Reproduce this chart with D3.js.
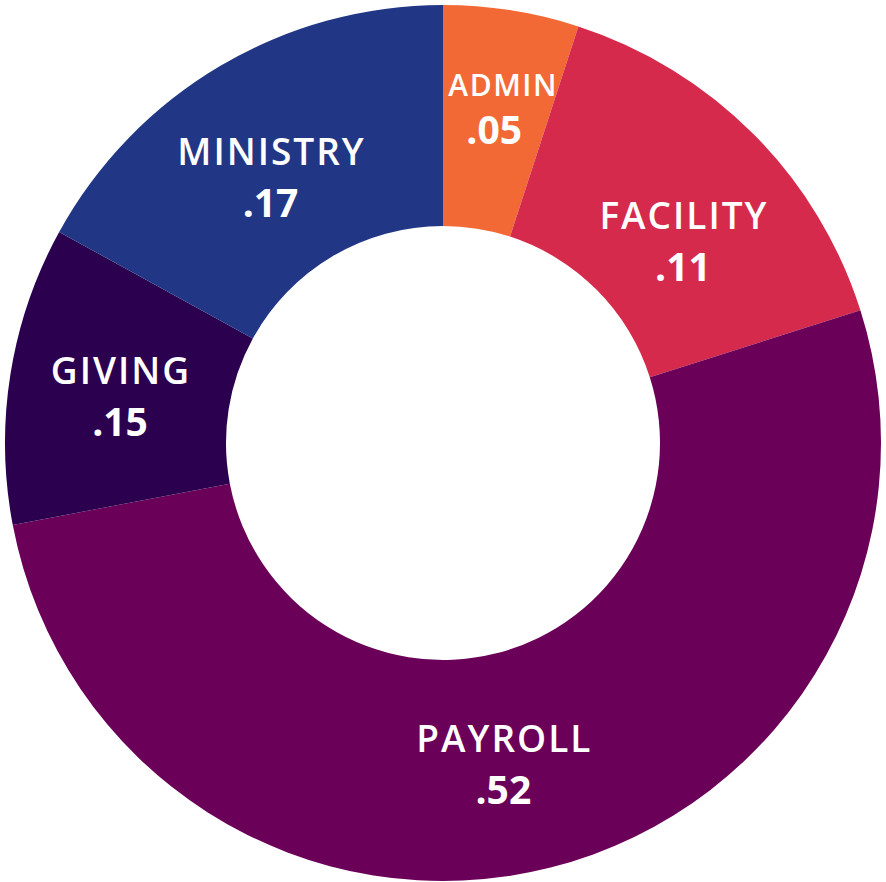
<!DOCTYPE html>
<html lang="en">
<head>
  <meta charset="UTF-8">
  <title>Budget Donut</title>
  <script src="https://d3js.org/d3.v7.min.js"></script>
  <style>
    body {
      margin: 0;
      background: #ffffff;
    }
    .name {
      font-family: "Open Sans", sans-serif;
      font-weight: 600;
      letter-spacing: 2px;
      fill: #ffffff;
    }
    .value {
      font-family: "Open Sans", sans-serif;
      font-weight: 700;
      fill: #ffffff;
    }
  </style>
</head>
<body>
<svg width="886" height="882"></svg>

<script>
  // categories, slice shares (as drawn) and the printed labels
  const categories = ["ADMIN", "FACILITY", "PAYROLL", "GIVING", "MINISTRY"];
  const shares = [0.05, 0.151, 0.519, 0.11, 0.17];
  const valueLabels = [".05", ".11", ".52", ".15", ".17"];
  const colors = ["#F36936", "#D62A4C", "#6B0058", "#2B004F", "#213685"];

  const svg = d3.select("svg");
  const cx = 443, cy = 443;
  const outerR = 438, innerR = 217;

  const data = categories.map((c, i) => ({name: c, share: shares[i], label: valueLabels[i], color: colors[i]}));

  const pie = d3.pie().value(d => d.share).sort(null);
  const arc = d3.arc().innerRadius(innerR).outerRadius(outerR);
  const labelArc = d3.arc().innerRadius(327).outerRadius(327);

  const g = svg.append("g").attr("transform", `translate(${cx},${cy})`);

  g.selectAll("path")
    .data(pie(data))
    .enter()
    .append("path")
    .attr("d", arc)
    .attr("fill", d => d.data.color);

  // small nudges so labels sit where the original put them
  const nudge = {
    ADMIN: [0, -11],
    FACILITY: [8, 24],
    PAYROLL: [-20, 0],
    GIVING: [0, 0],
    MINISTRY: [-6, 11]
  };

  const labels = g.selectAll(".lbl")
    .data(pie(data))
    .enter()
    .append("g")
    .attr("class", "lbl")
    .attr("transform", d => {
      const [x, y] = labelArc.centroid(d);
      const n = nudge[d.data.name];
      return `translate(${x + n[0]},${y + n[1]})`;
    });

  labels.append("text")
    .attr("class", "name")
    .attr("text-anchor", "middle")
    .attr("x", d => d.data.name === "ADMIN" ? 9 : 1)
    .attr("y", d => d.data.name === "ADMIN" ? -13 : -8)
    .attr("font-size", d => d.data.name === "ADMIN" ? 30 : 37)
    .style("letter-spacing", d => d.data.name === "ADMIN" ? "1.5px" : null)
    .text(d => d.data.name);

  labels.append("text")
    .attr("class", "value")
    .attr("text-anchor", "middle")
    .attr("y", d => d.data.name === "ADMIN" ? 35 : 44)
    .attr("font-size", 39)
    .text(d => d.data.label);
</script>

</body>
</html>
